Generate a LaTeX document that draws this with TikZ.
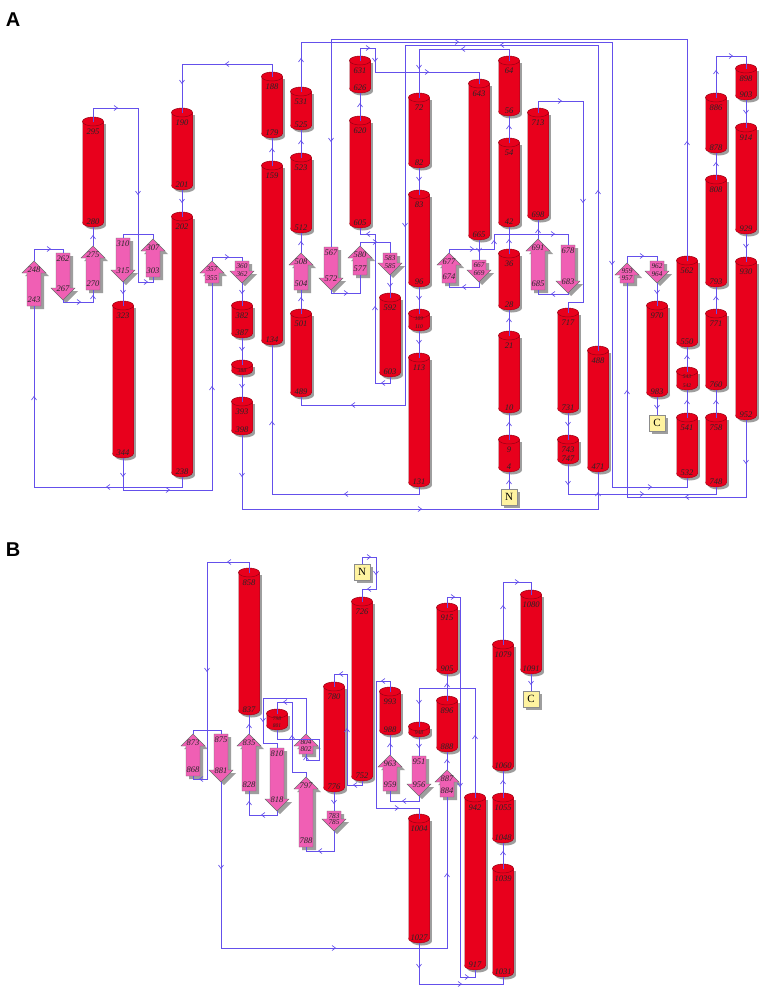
\documentclass[tikz,border=0pt]{standalone}
\usepackage{fontspec}
\setmainfont{Liberation Serif}
\newfontfamily\pnl{Liberation Sans}
\definecolor{hred}{RGB}{232,0,28}
\definecolor{hrim}{RGB}{150,0,20}
\definecolor{spink}{RGB}{240,95,180}
\definecolor{sedge}{RGB}{110,110,110}
\definecolor{lcol}{RGB}{100,80,235}
\definecolor{boxy}{RGB}{255,243,160}
\tikzset{
 conn/.style={draw=lcol,line width=0.85pt},
 mk/.style={draw=lcol,line width=0.65pt},
 lab/.style={font=\fontsize{8.5}{9}\selectfont\itshape, text=black!85, inner sep=0},
 slab/.style={font=\fontsize{7.3}{7.5}\selectfont\itshape, text=black!85, inner sep=0},
 tlab/.style={font=\fontsize{5.5}{6}\selectfont\itshape, text=black!85, inner sep=0},
 shad/.style={fill=black!38},
 termbox/.style={draw=black!45, fill=boxy, line width=0.4pt, minimum size=16pt, inner sep=0, font=\fontsize{11}{11}\selectfont},
 panel/.style={font=\pnl\bfseries\fontsize{20}{20}\selectfont, inner sep=0},
}
\newcommand\cyl[4]{% x yt yb
 \fill[shad] ({#1-10.5+2.5},{#2+4.5+2.5}) rectangle ({#1+10.5+2.5},{#3-4.5+2.5});
 \fill[shad] ({#1+2.5},{#3-4.5+2.5}) ellipse (10.5 and 4.5);
 \fill[hred] ({#1-10.5},{#2+4.5}) rectangle ({#1+10.5},{#3-4.5});
 \fill[hred] (#1,{#3-4.5}) ellipse (10.5 and 4.5);
 \draw[hrim,line width=0.4pt] ({#1-10.5},{#2+4.5}) -- ({#1-10.5},{#3-4.5}) arc (180:0:10.5 and 4.5) -- ({#1+10.5},{#2+4.5});
 \filldraw[fill=hred, draw=hrim, line width=0.5pt] (#1,{#2+4.5}) ellipse (10.5 and 4.5);
}
\newcommand\hel[6]{%
 \cyl{#2}{#3}{#4}{}
 \coordinate (#1t) at (#2,{#3+4.5});
 \coordinate (#1b) at (#2,#4);
 \node[lab] at (#2,{#3+15}) {#5};
 \node[lab] at (#2,{#4-5}) {#6};
}
\newcommand\helS[6]{%
 \cyl{#2}{#3}{#4}{}
 \coordinate (#1t) at (#2,{#3+4.5});
 \coordinate (#1b) at (#2,#4);
 \node[tlab] at (#2,{#3+10}) {#5};
 \node[tlab] at (#2,{#4-4}) {#6};
}
\newcommand\shpU[3]{% x yt yb : up arrow shape
 \fill[shad] ({#1-7+3},{#3+3}) -- ({#1-7+3},{#2+12+3}) -- ({#1-12+3},{#2+12+3}) -- ({#1+3},{#2+3}) -- ({#1+12+3},{#2+12+3}) -- ({#1+7+3},{#2+12+3}) -- ({#1+7+3},{#3+3}) -- cycle;
 \filldraw[fill=spink,draw=sedge,line width=0.4pt] ({#1-7},{#3}) -- ({#1-7},{#2+12}) -- ({#1-12},{#2+12}) -- (#1,#2) -- ({#1+12},{#2+12}) -- ({#1+7},{#2+12}) -- ({#1+7},{#3}) -- cycle;
}
\newcommand\shpD[3]{% x yt yb : down arrow shape
 \fill[shad] ({#1-7+3},{#2+3}) -- ({#1-7+3},{#3-12+3}) -- ({#1-12+3},{#3-12+3}) -- ({#1+3},{#3+3}) -- ({#1+12+3},{#3-12+3}) -- ({#1+7+3},{#3-12+3}) -- ({#1+7+3},{#2+3}) -- cycle;
 \filldraw[fill=spink,draw=sedge,line width=0.4pt] ({#1-7},{#2}) -- ({#1-7},{#3-12}) -- ({#1-12},{#3-12}) -- (#1,#3) -- ({#1+12},{#3-12}) -- ({#1+7},{#3-12}) -- ({#1+7},{#2}) -- cycle;
}
\newcommand\strU[6]{%
 \shpU{#2}{#3}{#4}
 \coordinate (#1t) at (#2,#3);
 \coordinate (#1b) at (#2,#4);
 \node[lab] at (#2,{#3+9}) {#5};
 \node[lab] at (#2,{#4-6}) {#6};
}
\newcommand\strD[6]{%
 \shpD{#2}{#3}{#4}
 \coordinate (#1t) at (#2,#3);
 \coordinate (#1b) at (#2,#4);
 \node[lab] at (#2,{#3+6}) {#5};
 \node[lab] at (#2,{#4-11}) {#6};
}
\newcommand\strUs[6]{%
 \shpU{#2}{#3}{#4}
 \coordinate (#1t) at (#2,#3);
 \coordinate (#1b) at (#2,#4);
 \node[slab] at (#2,{#3+8}) {#5};
 \node[slab] at (#2,{#4-5}) {#6};
}
\newcommand\strDs[6]{%
 \shpD{#2}{#3}{#4}
 \coordinate (#1t) at (#2,#3);
 \coordinate (#1b) at (#2,#4);
 \node[slab] at (#2,{#3+5}) {#5};
 \node[slab] at (#2,{#4-8.5}) {#6};
}
\newcommand\tbox[4]{%
 \fill[shad] ({#2-8+2.5},{#3-8+2.5}) rectangle ({#2+8+2.5},{#3+8+2.5});
 \node[termbox] (#1) at (#2,#3) {#4};
}
\newcommand\arR[2]{\draw[mk] ({#1-2},{#2-2.5}) -- ({#1+1.5},#2) -- ({#1-2},{#2+2.5});}
\newcommand\arL[2]{\draw[mk] ({#1+2},{#2-2.5}) -- ({#1-1.5},#2) -- ({#1+2},{#2+2.5});}
\newcommand\arU[2]{\draw[mk] ({#1-2.5},{#2+2}) -- (#1,{#2-1.5}) -- ({#1+2.5},{#2+2});}
\newcommand\arD[2]{\draw[mk] ({#1-2.5},{#2-2}) -- (#1,{#2+1.5}) -- ({#1+2.5},{#2-2});}
\begin{document}
\begin{tikzpicture}[x=1pt,y=-1pt]
\useasboundingbox[fill=white] (0,0) rectangle (760,988);
\node[panel] at (13,20) {A};
\node[panel] at (13,550) {B};
% ---------------- Panel A helices
\hel{h295}{93}{117}{227}{295}{280}
\hel{h190}{182}{108}{190}{190}{201}
\hel{h202}{182}{212}{477}{202}{238}
\hel{h323}{123}{301}{458}{323}{344}
\hel{h382}{242}{301}{338}{382}{387}
\helS{h388}{242}{360}{375}{}{388}
\hel{h393}{242}{397}{435}{393}{398}
\hel{h188}{272}{72}{138}{188}{179}
\hel{h159}{272}{161}{345}{159}{134}
\hel{h531}{301}{87}{130}{531}{525}
\hel{h523}{301}{153}{233}{523}{512}
\hel{h501}{301}{309}{397}{501}{489}
\hel{h631}{360}{56}{93}{631}{626}
\hel{h620}{360}{116}{228}{620}{605}
\hel{h592}{390}{293}{377}{592}{603}
\hel{h72}{419}{93}{168}{72}{82}
\hel{h83}{419}{190}{287}{83}{96}
\helS{h109}{419}{309}{331}{109}{110}
\hel{h113}{419}{353}{487}{113}{131}
\hel{h643}{479}{79}{240}{643}{665}
\hel{h64}{509}{56}{116}{64}{56}
\hel{h54}{509}{138}{227}{54}{42}
\hel{h36}{509}{249}{310}{36}{28}
\hel{h21}{509}{331}{413}{21}{10}
\hel{h9}{509}{435}{472}{9}{4}
\hel{h713}{538}{108}{220}{713}{698}
\hel{h717}{568}{308}{413}{717}{731}
\hel{h743}{568}{435}{464}{743}{747}
\hel{h488}{598}{346}{472}{488}{471}
\hel{h970}{657}{301}{397}{970}{983}
\hel{h562}{687}{256}{347}{562}{550}
\helS{h543}{687}{367}{390}{543}{542}
\hel{h541}{687}{413}{478}{541}{532}
\hel{h898}{746}{64}{100}{898}{903}
\hel{h886}{716}{93}{153}{886}{878}
\hel{h808}{716}{175}{287}{808}{793}
\hel{h914}{746}{123}{234}{914}{929}
\hel{h930}{746}{257}{420}{930}{952}
\hel{h771}{716}{309}{390}{771}{760}
\hel{h758}{716}{413}{487}{758}{748}
% ---------------- Panel A strands
\strU{s248}{34}{261}{306}{248}{243}
\strD{s262}{63}{253}{300}{262}{267}
\strU{s275}{93}{246}{290}{275}{270}
\strD{s310}{123}{238}{282}{310}{315}
\strU{s307}{153}{239}{277}{307}{303}
\strUs{s357}{212}{261}{283}{357}{355}
\strDs{s360}{242}{261}{283}{360}{362}
\strU{s508}{301}{253}{290}{508}{504}
\strD{s567}{331}{247}{290}{567}{572}
\strU{s580}{360}{246}{275}{580}{577}
\strDs{s583}{390}{253}{275}{583}{585}
\strU{s677}{449}{253}{283}{677}{674}
\strDs{s667}{479}{260}{282}{667}{669}
\strU{s691}{538}{239}{290}{691}{685}
\strD{s678}{568}{245}{293}{678}{683}
\strUs{s959}{627}{263}{283}{959}{957}
\strDs{s962}{657}{261}{283}{962}{964}
\tbox{nA}{509}{497}{N}
\tbox{cA}{657}{423}{C}
% ---------------- Panel A connectors
\draw[conn] (nA.north) -- (h9b); \arU{509}{482}
\draw[conn] (h9t) -- (h21b); \arU{509}{424}
\draw[conn] (h21t) -- (h36b); \arU{509}{320}
\draw[conn] (h36t) -- (h54b); \arU{509}{241}
\draw[conn] (h54t) -- (h64b); \arU{509}{127}
\draw[conn] (h64t) -- (509,49) -| (h72t); \arL{463}{49} \arD{419}{67}
\draw[conn] (h72b) -- (h83t); \arD{419}{179}
\draw[conn] (h83b) -- (h109t); \arD{419}{298}
\draw[conn] (h109b) -- (h113t); \arD{419}{342}
\draw[conn] (h113b) -- (419,494) -| (h159b); \arL{346}{494} \arU{272}{423}
\draw[conn] (h159t) -- (h188b); \arU{272}{150}
\draw[conn] (h188t) -- (272,64) -| (h190t); \arL{227}{64} \arD{182}{82}
\draw[conn] (h190b) -- (h202t); \arD{182}{201}
\draw[conn] (h202b) -- (182,487) -| (s248b); \arL{108}{487} \arU{34}{398}
\draw[conn] (s248t) -- (34,249) -| (s262t); \arR{49}{249}
\draw[conn] (s262b) -- (63,302) -| (s275b); \arR{79}{302} \arU{93}{297}
\draw[conn] (s275t) -- (h295b); \arU{93}{237}
\draw[conn] (h295t) -- (93,108) -| (138,282) -| (s307b); \arR{116}{108} \arD{138}{193} \arR{146}{282}
\draw[conn] (s307t) -- (153,234) -| (s310t);
\draw[conn] (s310b) -- (h323t); \arD{123}{292}
\draw[conn] (h323b) -- (123,490) -| (s357b); \arD{123}{475} \arR{168}{490} \arU{212}{388}
\draw[conn] (s357t) -- (212,257) -| (s360t); \arR{227}{257}
\draw[conn] (s360b) -- (h382t); \arD{242}{292}
\draw[conn] (h382b) -- (h388t); \arD{242}{349}
\draw[conn] (h388b) -- (h393t); \arD{242}{386}
\draw[conn] (h393b) -- (242,509) -| (h488b); \arD{242}{475} \arR{420}{509} \arU{598}{494}
\draw[conn] (h488t) -- (598,45) -| (405,405) -| (h501b); \arU{598}{192} \arL{502}{45} \arD{405}{225} \arL{353}{405}
\draw[conn] (h501t) -- (s508b); \arU{301}{299}
\draw[conn] (s508t) -- (h523b); \arU{301}{243}
\draw[conn] (h523t) -- (h531b); \arU{301}{142}
\draw[conn] (h531t) -- (301,42) -| (612,487) -| (h541b); \arU{301}{60} \arR{457}{42} \arD{612}{263} \arR{650}{487}
\draw[conn] (h541t) -- (h543b); \arU{687}{402}
\draw[conn] (h543t) -- (h562b); \arU{687}{357}
\draw[conn] (h562t) -- (687,39) -| (s567t); \arU{687}{143} \arD{331}{140}
\draw[conn] (s567b) -- (331,293) -| (s580b); \arR{346}{293}
\draw[conn] (s580t) -- (360,242) -| (s583t); \arR{375}{242}
\draw[conn] (s583b) -- (h592t); \arD{390}{285}
\draw[conn] (h592b) -- (390,383) -| (375,234) -| (h620b); \arL{383}{383} \arU{375}{308} \arL{368}{234}
\draw[conn] (h620t) -- (h631b); \arU{360}{105}
\draw[conn] (h631t) -- (360,48) -| (375,72) -| (h643t); \arR{368}{48} \arD{375}{60} \arR{427}{72}
\draw[conn] (h643b) -- (s667t); \arD{479}{250}
\draw[conn] (s667b) -- (479,287) -| (s677b); \arL{464}{287}
\draw[conn] (s677t) -- (449,249) -| (494,234) -| (s678t); \arR{472}{249} \arU{494}{242} \arR{553}{234}
\draw[conn] (s678b) -- (568,294) -| (s691b); \arL{553}{294}
\draw[conn] (s691t) -- (h713b); \arU{538}{231}
\draw[conn] (h713t) -- (538,101) -| (583,302) -| (h717t); \arR{560}{101} \arD{583}{201}
\draw[conn] (h717b) -- (h743t); \arD{568}{424}
\draw[conn] (h743b) -- (568,494) -| (h758b); \arD{568}{483} \arR{642}{494}
\draw[conn] (h758t) -- (h771b); \arU{716}{402}
\draw[conn] (h771t) -- (h808b); \arU{716}{298}
\draw[conn] (h808t) -- (h886b); \arU{716}{164}
\draw[conn] (h886t) -- (716,56) -| (h898t); \arU{716}{72} \arR{731}{56}
\draw[conn] (h898b) -- (h914t); \arD{746}{112}
\draw[conn] (h914b) -- (h930t); \arD{746}{246}
\draw[conn] (h930b) -- (746,497) -| (s959b); \arD{746}{462} \arL{687}{497} \arU{627}{392}
\draw[conn] (s959t) -- (627,256) -| (s962t); \arR{642}{256}
\draw[conn] (s962b) -- (h970t); \arD{657}{292}
\draw[conn] (h970b) -- (cA.north); \arD{657}{407}
% ---------------- Panel B helices
\hel{h858}{249}{568}{715}{858}{837}
\helS{h798}{277}{709}{730}{798}{801}
\hel{h780}{334}{682}{792}{780}{776}
\hel{h726}{362}{597}{781}{726}{752}
\hel{h993}{390}{687}{735}{993}{988}
\helS{h948}{419}{722}{737}{}{948}
\hel{h915}{447}{603}{674}{915}{905}
\hel{h896}{447}{696}{752}{896}{888}
\hel{h1004}{419}{814}{943}{1004}{1027}
\hel{h942}{475}{793}{970}{942}{917}
\hel{h1079}{503}{640}{771}{1079}{1060}
\hel{h1080}{531}{590}{674}{1080}{1091}
\hel{h1055}{503}{793}{843}{1055}{1048}
\hel{h1039}{503}{864}{977}{1039}{1031}
% ---------------- Panel B strands
\strU{s873}{193}{734}{776}{873}{868}
\strD{s875}{221}{734}{782}{875}{881}
\strU{s835}{249}{734}{791}{835}{828}
\strD{s810}{277}{748}{811}{810}{818}
\strUs{s804}{306}{734}{754}{804}{802}
\strU{s797}{306}{777}{847}{797}{788}
\strDs{s783}{334}{811}{831}{783}{785}
\strU{s963}{390}{755}{791}{963}{959}
\strD{s951}{419}{756}{796}{951}{956}
\strU{s887}{447}{770}{797}{887}{884}
\tbox{nB}{362}{572}{N}
\tbox{cB}{531}{699}{C}
% ---------------- Panel B connectors
\draw[conn] (nB.north) -- (362,557) -| (376,589) -| (h726t); \arR{369}{557} \arD{376}{573} \arL{369}{589}
\draw[conn] (h726b) -- (362,785) -| (347,674) -| (h780t); \arL{355}{785} \arU{347}{730} \arL{341}{674}
\draw[conn] (h780b) -- (s783t); \arD{334}{802}
\draw[conn] (s783b) -- (334,851) -| (s797b); \arL{320}{851}
\draw[conn] (s797t) -- (306,772) -| (292,702) -| (h798t); \arU{292}{737} \arL{285}{702}
\draw[conn] (h798b) -- (277,739) -| (319,760) -| (s804b); \arU{306}{758}
\draw[conn] (s804t) -- (306,698) -| (263,743) -| (s810t); \arD{263}{720}
\draw[conn] (s810b) -- (277,815) -| (s835b); \arL{263}{815} \arU{249}{803}
\draw[conn] (s835t) -- (h858b); \arU{249}{726}
\draw[conn] (h858t) -- (249,562) -| (207,779) -| (s873b); \arL{229}{562} \arD{207}{670} \arL{201}{779}
\draw[conn] (s873t) -- (193,730) -| (s875t);
\draw[conn] (s875b) -- (221,948) -| (s887b); \arD{221}{867} \arR{334}{948} \arU{447}{875}
\draw[conn] (s887t) -- (h896b); \arU{447}{761}
\draw[conn] (h896t) -- (h915b); \arU{447}{685}
\draw[conn] (h915t) -- (447,597) -| (460,977) -| (h942b); \arR{453}{597} \arD{460}{785} \arR{467}{977}
\draw[conn] (h942t) -- (475,688) -| (h948t); \arU{475}{737} \arD{419}{702}
\draw[conn] (h948b) -- (s951t); \arD{419}{746}
\draw[conn] (s951b) -- (419,801) -| (s963b); \arL{404}{801}
\draw[conn] (s963t) -- (h993b); \arU{390}{745}
\draw[conn] (h993t) -- (390,681) -| (376,808) -| (h1004t); \arL{383}{681} \arR{397}{808}
\draw[conn] (h1004b) -- (419,984) -| (h1039b); \arD{419}{966} \arR{460}{984}
\draw[conn] (h1039t) -- (h1055b); \arU{503}{853}
\draw[conn] (h1055t) -- (h1079b); \arU{503}{782}
\draw[conn] (h1079t) -- (503,582) -| (h1080t); \arU{503}{607} \arR{517}{582}
\draw[conn] (h1080b) -- (cB.north); \arD{531}{683}
\end{tikzpicture}
\end{document}
